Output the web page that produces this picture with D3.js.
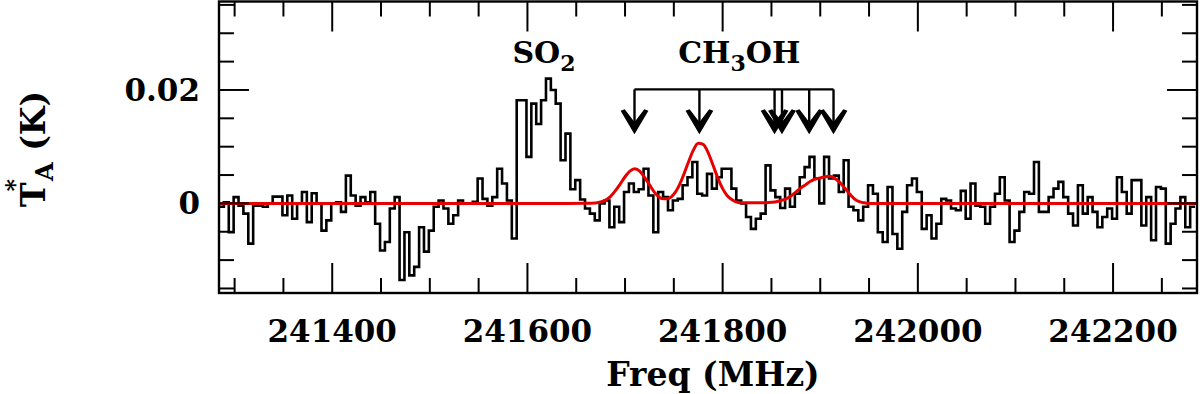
<!DOCTYPE html>
<html>
<head>
<meta charset="utf-8">
<script src="https://cdn.jsdelivr.net/npm/d3@7"></script>
<style>
  body { margin: 0; background: #fff; }
  text { font-family: "DejaVu Serif", serif; font-weight: bold; fill: #000; }
</style>
</head>
<body>
<div id="graph"></div>
<script>
var width = 1200;
var height = 394;

// spectrum channels (MHz) and antenna temperature (K)
var chanStart = 241284;
var chanWidth = 5;
var spectrum = [
	-0.0006, 0.0002, -0.0051, 0.0011, -0.0004, -0.0018, -0.0071, -0.0004, -0.0004, -0.0006,
	0.0000, 0.0012, 0.0012, -0.0021, 0.0014, -0.0027, 0.0000, 0.0020, -0.0033, 0.0018,
	0.0000, -0.0048, -0.0030, 0.0000, 0.0002, -0.0015, 0.0049, 0.0014, -0.0004, 0.0011,
	0.0002, 0.0020, -0.0036, -0.0083, -0.0068, -0.0009, 0.0011, -0.0135, -0.0051, -0.0127,
	-0.0112, -0.0042, -0.0085, -0.0048, -0.0006, 0.0005, -0.0009, -0.0036, -0.0021, 0.0005,
	0.0000, 0.0000, 0.0003, 0.0044, 0.0008, -0.0004, 0.0011, 0.0061, 0.0035, 0.0005,
	-0.0062, 0.0182, 0.0182, 0.0082, 0.0176, 0.0140, 0.0182, 0.0220, 0.0200, 0.0176,
	0.0076, 0.0123, 0.0025, 0.0041, 0.0007, -0.0009, -0.0018, -0.0030, 0.0000, 0.0005,
	-0.0042, -0.0006, -0.0033, 0.0020, 0.0035, 0.0020, 0.0025, 0.0061, 0.0014, -0.0051,
	0.0020, 0.0011, -0.0012, 0.0005, 0.0008, 0.0032, 0.0046, 0.0073, 0.0017, 0.0014,
	0.0052, 0.0026, 0.0046, 0.0061, 0.0061, 0.0026, 0.0005, 0.0000, -0.0024, -0.0045,
	-0.0027, -0.0018, 0.0067, 0.0023, 0.0011, -0.0008, 0.0026, -0.0006, 0.0017, 0.0046,
	0.0064, 0.0082, 0.0044, 0.0000, 0.0082, 0.0044, 0.0049, 0.0020, 0.0076, -0.0006,
	-0.0012, -0.0030, -0.0006, 0.0032, 0.0017, -0.0051, -0.0068, 0.0029, -0.0054, -0.0080,
	-0.0015, 0.0032, 0.0044, 0.0020, -0.0045, -0.0021, -0.0062, -0.0036, 0.0008, 0.0005,
	-0.0009, -0.0012, 0.0022, -0.0027, 0.0035, -0.0004, -0.0006, -0.0036, -0.0006, 0.0017,
	0.0046, 0.0005, -0.0068, -0.0048, -0.0015, 0.0020, 0.0017, 0.0073, -0.0015, -0.0015,
	0.0011, 0.0026, 0.0038, 0.0011, -0.0018, -0.0039, 0.0032, -0.0018, 0.0011, -0.0015,
	-0.0042, -0.0024, -0.0009, -0.0027, 0.0046, 0.0020, -0.0018, 0.0041, 0.0041, -0.0039,
	0.0011, -0.0065, 0.0029, 0.0026, -0.0071, -0.0036, -0.0009, 0.0011, -0.0042, -0.0006
];

// CH3OH model fit
var modelFreq = [
	241284, 241640, 241660, 241670, 241675, 241680, 241685, 241690, 241695, 241700,
	241705, 241710, 241715, 241720, 241725, 241730, 241735, 241740, 241745, 241750,
	241755, 241760, 241765, 241770, 241775, 241780, 241785, 241790, 241795, 241800,
	241805, 241810, 241815, 241820, 241840, 241850, 241855, 241860, 241865, 241870,
	241875, 241880, 241885, 241890, 241895, 241900, 241905, 241910, 241915, 241920,
	241925, 241930, 241935, 241940, 241945, 241950, 242286
];
var modelTemp = [
	0, 0, 0.00002, 0.00009, 0.00025, 0.00058, 0.0012, 0.0022, 0.0034, 0.0047,
	0.0057, 0.0061, 0.0057, 0.0046, 0.0033, 0.0020, 0.0011, 0.0008, 0.0009, 0.0016,
	0.0030, 0.0050, 0.0073, 0.0094, 0.0106, 0.0104, 0.0090, 0.0068, 0.0045, 0.0026,
	0.0013, 0.0006, 0.0002, 0.0001, 0.0001, 0.0002, 0.0003, 0.0005, 0.0008, 0.0013,
	0.0020, 0.0027, 0.0033, 0.0039, 0.0043, 0.0045, 0.0047, 0.0048, 0.0044, 0.0037,
	0.0027, 0.0017, 0.0008, 0.0003, 0.0001, 0, 0
];

// line markers
var ch3ohLines = [241709.7, 241776.2, 241853.2, 241860.8, 241888.7, 241913.6];
var markerTop = 0.0201;
var markerTip = 0.0124;
var so2Label = { freq: 241617, temp: 0.0248 };
var ch3ohLabel = { freq: 241817, temp: 0.0248 };

var xTicks = [241400, 241600, 241800, 242000, 242200];
var yTicks = [0, 0.02];

var pLeft = 219, pRight = 1197, pTop = 1.5, pBottom = 293;

var xScale = d3.scaleLinear().domain([241284, 242286]).range([pLeft, pRight]);
var yScale = d3.scaleLinear().domain([-0.0158, 0.0356]).range([pBottom, pTop]);

var chart = d3.select("#graph")
	.append("svg")
	.attr("width", width)
	.attr("height", height);

// clip so the histogram ends on the frame
chart.append("clipPath").attr("id", "plot")
	.append("rect")
	.attr("x", pLeft).attr("y", pTop)
	.attr("width", pRight - pLeft).attr("height", pBottom - pTop);

// build the step points from the channel edges
var steps = spectrum.map(function (v, i) { return [chanStart + i * chanWidth, v]; });
steps.push([chanStart + spectrum.length * chanWidth, spectrum[spectrum.length - 1]]);

var stepLine = d3.line()
	.curve(d3.curveStepAfter)
	.x(function (d) { return xScale(d[0]); })
	.y(function (d) { return yScale(d[1]); });

chart.append("path")
	.datum(steps)
	.attr("clip-path", "url(#plot)")
	.attr("fill", "none")
	.attr("stroke", "#000")
	.attr("stroke-width", 2.6)
	.attr("d", stepLine);

var modelLine = d3.line()
	.curve(d3.curveMonotoneX)
	.x(function (d, i) { return xScale(modelFreq[i]); })
	.y(function (d) { return yScale(d); });

chart.append("path")
	.datum(modelTemp)
	.attr("clip-path", "url(#plot)")
	.attr("fill", "none")
	.attr("stroke", "#e60000")
	.attr("stroke-width", 3)
	.attr("d", modelLine);

// ticks inside on all four sides
var majorLen = 30, minorLen = 15;
var drawTicks = function (g, values, pos, horizontal, inward) {
	g.selectAll("line").data(values).enter().append("line")
		.attr("stroke", "#000")
		.attr("stroke-width", 2)
		.each(function (d) {
			var len = d.major ? majorLen : minorLen;
			var el = d3.select(this);
			if (horizontal) {
				var x = xScale(d.v);
				el.attr("x1", x).attr("x2", x).attr("y1", pos).attr("y2", pos + inward * len);
			} else {
				var y = yScale(d.v);
				el.attr("y1", y).attr("y2", y).attr("x1", pos).attr("x2", pos + inward * len);
			}
		});
};

var xt = d3.range(241300, 242300, 50).map(function (v) { return { v: v, major: v % 200 == 0 }; });
var yt = d3.range(-3, 8).map(function (k) { return { v: k * 0.005, major: k % 4 == 0 }; });

var gTicks = chart.append("g");
drawTicks(gTicks.append("g"), xt, pBottom, true, -1);
drawTicks(gTicks.append("g"), xt, pTop, true, 1);
drawTicks(gTicks.append("g"), yt, pLeft, false, 1);
drawTicks(gTicks.append("g"), yt, pRight, false, -1);

chart.append("rect")
	.attr("x", pLeft).attr("y", pTop)
	.attr("width", pRight - pLeft).attr("height", pBottom - pTop)
	.attr("fill", "none")
	.attr("stroke", "#000")
	.attr("stroke-width", 2.4);

// tick labels
chart.selectAll("text.xl").data(xTicks).enter().append("text")
	.attr("x", function (d) { return xScale(d); })
	.attr("y", 342)
	.attr("text-anchor", "middle")
	.style("font-size", "31px")
	.text(function (d) { return d; });

chart.selectAll("text.yl").data(yTicks).enter().append("text")
	.attr("x", 200)
	.attr("y", function (d) { return yScale(d) + 11; })
	.attr("text-anchor", "end")
	.style("font-size", "31px")
	.text(function (d) { return d == 0 ? "0" : d.toFixed(2); });

// axis titles
chart.append("text")
	.attr("x", 713).attr("y", 386)
	.attr("text-anchor", "middle")
	.style("font-size", "33px")
	.text("Freq (MHz)");

var yl = chart.append("text")
	.attr("transform", "translate(45,207) rotate(-90)")
	.attr("text-anchor", "start")
	.style("font-size", "33px");
yl.append("tspan").text("T");
yl.append("tspan").attr("dx", -9).attr("dy", -22).style("font-size", "24px").text("*");
yl.append("tspan").attr("dx", -2).attr("dy", 30).style("font-size", "24px").text("A");
yl.append("tspan").attr("dy", -8).text(" (K)");

// molecule labels
var so2 = chart.append("text")
	.attr("x", xScale(so2Label.freq)).attr("y", yScale(so2Label.temp))
	.attr("text-anchor", "middle")
	.style("font-size", "30px");
so2.append("tspan").text("SO");
so2.append("tspan").attr("dy", 8).style("font-size", "22px").text("2");

var ch = chart.append("text")
	.attr("x", xScale(ch3ohLabel.freq)).attr("y", yScale(ch3ohLabel.temp))
	.attr("text-anchor", "middle")
	.style("font-size", "30px");
ch.append("tspan").text("CH");
ch.append("tspan").attr("dy", 8).style("font-size", "22px").text("3");
ch.append("tspan").attr("dy", -8).text("OH");

// CH3OH markers
var gm = chart.append("g").attr("stroke", "#000").attr("stroke-width", 2.4);
gm.append("line")
	.attr("x1", xScale(d3.min(ch3ohLines))).attr("x2", xScale(d3.max(ch3ohLines)))
	.attr("y1", yScale(markerTop)).attr("y2", yScale(markerTop));
gm.selectAll("line.v").data(ch3ohLines).enter().append("line")
	.attr("x1", function (d) { return xScale(d); })
	.attr("x2", function (d) { return xScale(d); })
	.attr("y1", yScale(markerTop))
	.attr("y2", yScale(markerTip) - 4);
gm.selectAll("path.head").data(ch3ohLines).enter().append("path")
	.attr("transform", function (d) { return "translate(" + xScale(d) + "," + yScale(markerTip) + ")"; })
	.attr("fill", "#000")
	.attr("stroke-width", 1.2)
	.attr("stroke-linejoin", "miter")
	.attr("d", "M0,0 L-13,-22 L-10,-23 L0,-10 L10,-23 L13,-22 Z");
</script>
</body>
</html>
